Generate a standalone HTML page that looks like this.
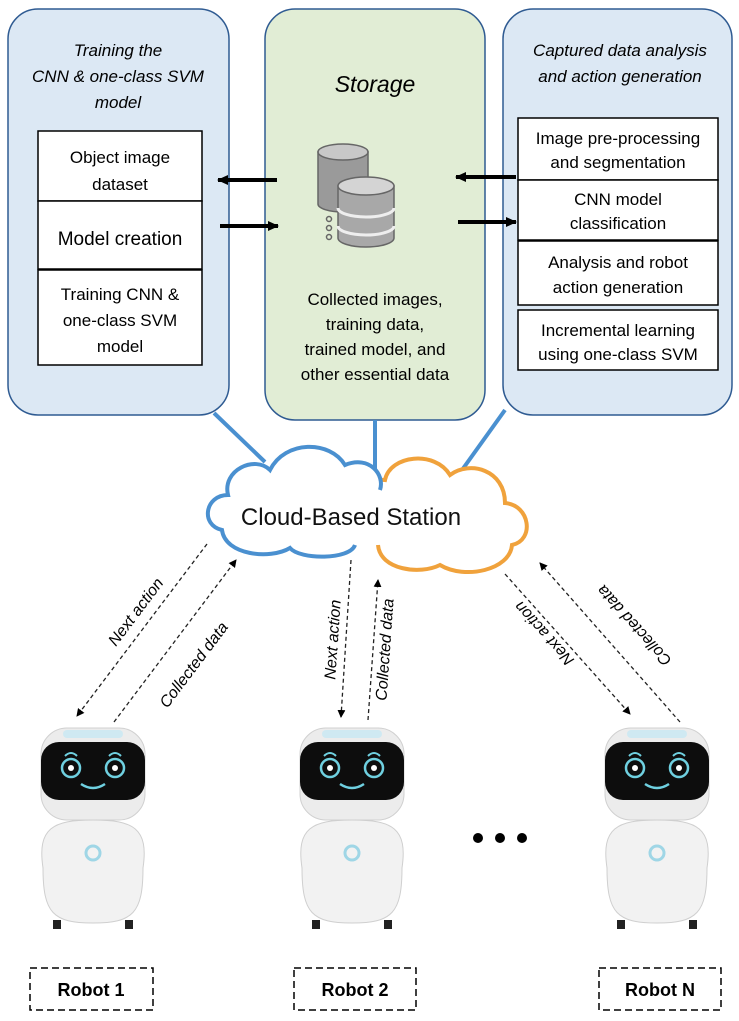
<!DOCTYPE html>
<html><head><meta charset="utf-8"><style>
html,body{margin:0;padding:0;background:#fff}
svg{display:block;font-family:"Liberation Sans",sans-serif}
</style></head><body>
<svg width="739" height="1021" viewBox="0 0 739 1021" xmlns="http://www.w3.org/2000/svg">
<defs>
<marker id="a" markerWidth="8" markerHeight="8" refX="7" refY="4" orient="auto" markerUnits="userSpaceOnUse"><path d="M0,0 L8,4 L0,8z" fill="#000"/></marker>
<marker id="b" markerWidth="12" markerHeight="12" refX="10" refY="6" orient="auto" markerUnits="userSpaceOnUse"><path d="M0,1 L11,6 L0,11z" fill="#000"/></marker>
<g id="robot">
<rect x="-52" y="0" width="104" height="92" rx="26" fill="#ececec" stroke="#d0d0d0"/>
<rect x="-30" y="2" width="60" height="8" rx="4" fill="#cfe9f2"/>
<rect x="-52" y="14" width="104" height="58" rx="18" fill="#0d0d0d"/>
<circle cx="-22" cy="40" r="9" fill="none" stroke="#6fd0e0" stroke-width="2.5"/>
<circle cx="22" cy="40" r="9" fill="none" stroke="#6fd0e0" stroke-width="2.5"/>
<circle cx="-22" cy="40" r="3" fill="#fff"/><circle cx="22" cy="40" r="3" fill="#fff"/>
<path d="M-12,56 Q0,64 12,56" fill="none" stroke="#6fd0e0" stroke-width="2.5"/>
<path d="M-28,28 Q-22,22 -16,28 M16,28 Q22,22 28,28" fill="none" stroke="#6fd0e0" stroke-width="2"/>
<path d="M-50,140 C-56,100 -40,92 0,92 C40,92 56,100 50,140 C50,185 40,195 0,195 C-40,195 -50,185 -50,140z" fill="#f2f2f2" stroke="#cfcfcf"/>
<circle cx="0" cy="125" r="7" fill="none" stroke="#9fd6e6" stroke-width="3"/>
<rect x="-40" y="192" width="8" height="9" fill="#222"/><rect x="32" y="192" width="8" height="9" fill="#222"/>
</g>
</defs>
<rect x="8" y="9" width="221" height="406" rx="30" fill="#dce8f4" stroke="#2f5b92" stroke-width="1.5"/>
<rect x="265" y="9" width="220" height="411" rx="30" fill="#e1edd5" stroke="#2f5b92" stroke-width="1.5"/>
<rect x="503" y="9" width="229" height="406" rx="30" fill="#dce8f4" stroke="#2f5b92" stroke-width="1.5"/>
<g font-style="italic" fill="#000" text-anchor="middle" font-size="17">
<text x="118" y="56">Training the</text>
<text x="118" y="82">CNN &amp; one-class SVM</text>
<text x="118" y="108">model</text>
<text x="375" y="92" font-size="23">Storage</text>
<text x="620" y="56">Captured data analysis</text>
<text x="620" y="82">and action generation</text>
</g>
<g fill="#fff" stroke="#000" stroke-width="1.5">
<rect x="38" y="131" width="164" height="70"/><rect x="38" y="201" width="164" height="68"/><rect x="38" y="270" width="164" height="95"/>
<rect x="518" y="118" width="200" height="62"/><rect x="518" y="180" width="200" height="60"/><rect x="518" y="241" width="200" height="64"/><rect x="518" y="310" width="200" height="60"/>
</g>
<g text-anchor="middle" fill="#000" font-size="17">
<text x="120" y="163">Object image</text><text x="120" y="190">dataset</text>
<text x="120" y="245" font-size="19">Model creation</text>
<text x="120" y="300">Training CNN &amp;</text><text x="120" y="326">one-class SVM</text><text x="120" y="352">model</text>
<text x="618" y="144">Image pre-processing</text><text x="618" y="168">and segmentation</text>
<text x="618" y="205">CNN model</text><text x="618" y="229">classification</text>
<text x="618" y="268">Analysis and robot</text><text x="618" y="293">action generation</text>
<text x="618" y="336">Incremental learning</text><text x="618" y="360">using one-class SVM</text>
<text x="375" y="305">Collected images,</text><text x="375" y="330">training data,</text><text x="375" y="355">trained model, and</text><text x="375" y="380">other essential data</text>
</g>
<g stroke="#000" stroke-width="4" marker-end="url(#b)">
<line x1="277" y1="180" x2="218" y2="180"/><line x1="220" y1="226" x2="278" y2="226"/>
<line x1="516" y1="177" x2="456" y2="177"/><line x1="458" y1="222" x2="516" y2="222"/>
</g>
<g stroke="#666" stroke-width="1.5">
<path d="M318,152 v52 a25,8 0 0 0 50,0 v-52z" fill="#9a9a9a"/><ellipse cx="343" cy="152" rx="25" ry="8" fill="#c8c8c8"/>
<path d="M338,186 v52 a28,9 0 0 0 56,0 v-52z" fill="#a8a8a8"/><ellipse cx="366" cy="186" rx="28" ry="9" fill="#d4d4d4"/>
<path d="M338,208 a28,9 0 0 0 56,0 M338,226 a28,9 0 0 0 56,0" fill="none" stroke="#eee" stroke-width="3"/>
<circle cx="329" cy="219" r="2.5" fill="none"/><circle cx="329" cy="228" r="2.5" fill="none"/><circle cx="329" cy="237" r="2.5" fill="none"/>
</g>
<g stroke="#4a90d0" stroke-width="4">
<line x1="214" y1="413" x2="265" y2="462"/><line x1="375" y1="420" x2="375" y2="470"/><line x1="505" y1="410" x2="462" y2="470"/>
</g>
<path d="M378,545 C380,570 420,575 440,565 C465,580 510,570 512,545 C535,540 530,505 505,503 C505,470 470,460 450,475 C435,450 390,455 385,480 C370,478 360,495 365,510" fill="#fff" stroke="#f0a23c" stroke-width="4"/>
<path d="M355,545 C350,560 300,560 290,548 C270,560 225,555 222,530 C200,525 205,495 228,495 C222,470 255,455 270,470 C285,440 330,440 345,465 C370,455 385,475 380,490" fill="#fff" stroke="#4a90d0" stroke-width="4"/>
<text x="351" y="525" text-anchor="middle" font-size="24" fill="#111">Cloud-Based Station</text>
<g stroke="#222" stroke-width="1.3" stroke-dasharray="4,3" fill="none">
<line x1="207" y1="544" x2="77" y2="716" marker-end="url(#a)"/>
<line x1="114" y1="722" x2="236" y2="560" marker-end="url(#a)"/>
<line x1="351" y1="560" x2="341" y2="717" marker-end="url(#a)"/>
<line x1="368" y1="720" x2="378" y2="580" marker-end="url(#a)"/>
<line x1="505" y1="574" x2="630" y2="714" marker-end="url(#a)"/>
<line x1="680" y1="722" x2="540" y2="563" marker-end="url(#a)"/>
</g>
<g font-style="italic" font-size="16" fill="#000" text-anchor="middle">
<text transform="translate(140,615) rotate(-53)">Next action</text>
<text transform="translate(198,668) rotate(-53)">Collected data</text>
<text transform="translate(338,640) rotate(-86)">Next action</text>
<text transform="translate(390,650) rotate(-86)">Collected data</text>
<text transform="translate(548,630) rotate(228)">Next action</text>
<text transform="translate(638,622) rotate(228)">Collected data</text>
</g>
<use href="#robot" x="93" y="728"/><use href="#robot" x="352" y="728"/><use href="#robot" x="657" y="728"/>
<circle cx="478" cy="838" r="5" fill="#000"/><circle cx="500" cy="838" r="5" fill="#000"/><circle cx="522" cy="838" r="5" fill="#000"/>
<g fill="none" stroke="#000" stroke-width="1.5" stroke-dasharray="7,4">
<rect x="30" y="968" width="123" height="42"/><rect x="294" y="968" width="122" height="42"/><rect x="599" y="968" width="122" height="42"/>
</g>
<g font-weight="bold" font-size="18" text-anchor="middle">
<text x="91" y="996">Robot 1</text><text x="355" y="996">Robot 2</text><text x="660" y="996">Robot N</text>
</g>
</svg>
</body></html>
